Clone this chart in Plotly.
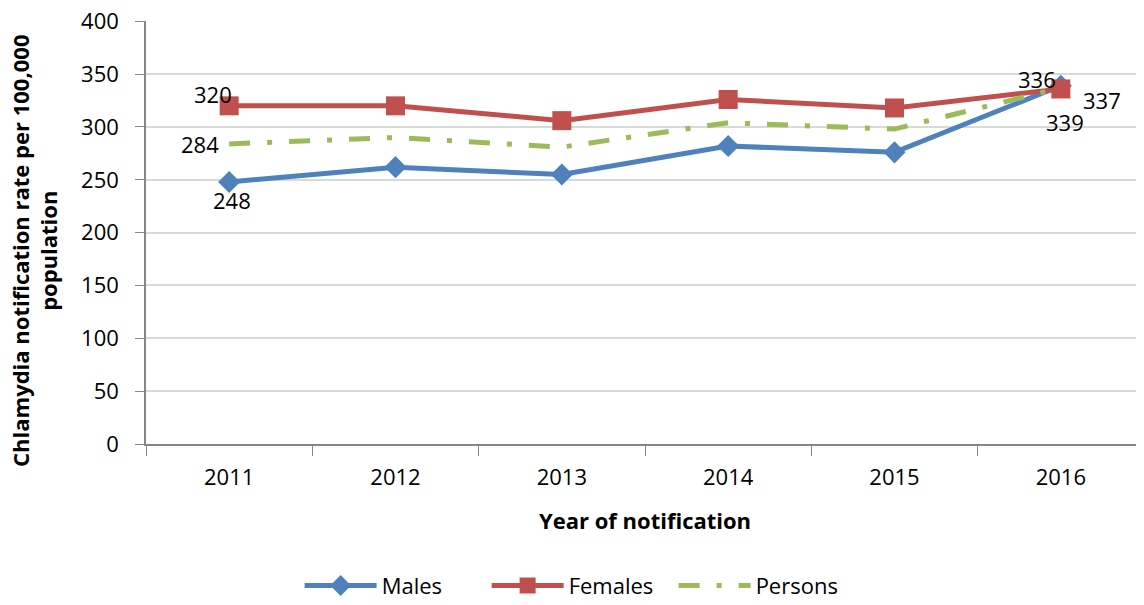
import plotly.graph_objects as go

years = ["2011", "2012", "2013", "2014", "2015", "2016"]
males = [248, 262, 255, 282, 276, 339]
females = [320, 320, 306, 326, 318, 336]
persons = [284, 290, 281, 304, 298, 337]
y_ticks = [0, 50, 100, 150, 200, 250, 300, 350, 400]

FONT = "Open Sans"
FS = 22

fig = go.Figure()
fig.add_trace(go.Scatter(
    x=years, y=males, name="Males", mode="lines+markers",
    line=dict(color="#4F81BD", width=5),
    marker=dict(symbol="diamond", size=17, color="#4F81BD"),
))
fig.add_trace(go.Scatter(
    x=years, y=females, name="Females", mode="lines+markers",
    line=dict(color="#C0504D", width=5),
    marker=dict(symbol="square", size=19, color="#C0504D"),
))
fig.add_trace(go.Scatter(
    x=years, y=persons, name="Persons", mode="lines",
    line=dict(color="#9BBB59", width=5, dash="21px,17px,5px,17px"),
))

# end-point data labels (first and last year), offsets in pixels
last = len(years) - 1
label_specs = [
    (females, 0, -16, 12), (persons, 0, -29, 0), (males, 0, 3, -18),
    (females, last, -24, 10), (persons, last, 41, -12), (males, last, 4, -36),
]
annotations = []
for vals, idx, dx, dy in label_specs:
    annotations.append(dict(
        x=idx, y=vals[idx], xref="x", yref="y", text=str(vals[idx]),
        showarrow=False, xanchor="center", yanchor="middle",
        xshift=dx, yshift=dy, font=dict(size=FS, color="black", family=FONT),
    ))

annotations.append(dict(
    x=-0.112, y=0.457, xref="paper", yref="paper", textangle=-90,
    text="<b>Chlamydia notification rate per 100,000<br>population</b>",
    showarrow=False, xanchor="center", yanchor="middle",
    font=dict(size=22, color="black", family=FONT),
))
annotations.append(dict(
    x=0.5, y=-0.18, xref="paper", yref="paper",
    text="<b>Year of notification</b>",
    showarrow=False, xanchor="center", yanchor="middle",
    font=dict(size=FS, color="black", family=FONT),
))

# the page adds an 8px body margin on the left and top
fig.update_layout(
    width=1136, height=597,
    margin=dict(l=138, r=0, t=13, b=161, autoexpand=False),
    paper_bgcolor="white", plot_bgcolor="white",
    font=dict(family=FONT, size=FS, color="black"),
    showlegend=True,
    legend=dict(orientation="h", x=0.435, xanchor="center", y=-0.335, yanchor="middle",
                font=dict(size=FS, family=FONT), itemwidth=72,
                entrywidth=100, entrywidthmode="pixels"),
    annotations=annotations,
    xaxis=dict(
        type="category", range=[-0.5, 5.5], automargin=False,
        tickson="boundaries", ticks="outside", ticklen=10, tickcolor="#868686",
        showline=True, linecolor="#868686", linewidth=1.5,
        showgrid=False, tickfont=dict(size=FS), ticklabelstandoff=13,
    ),
    yaxis=dict(
        range=[0, 400.3], tickvals=y_ticks, automargin=False,
        ticks="outside", ticklen=9, tickcolor="#868686",
        showline=True, linecolor="#868686", linewidth=1.5,
        showgrid=True, gridcolor="#D9D9D9", gridwidth=1.5,
        zeroline=False, tickfont=dict(size=FS), ticklabelstandoff=12,
        ticklabeloverflow="allow",
    ),
)

fig.write_html("out.html")
